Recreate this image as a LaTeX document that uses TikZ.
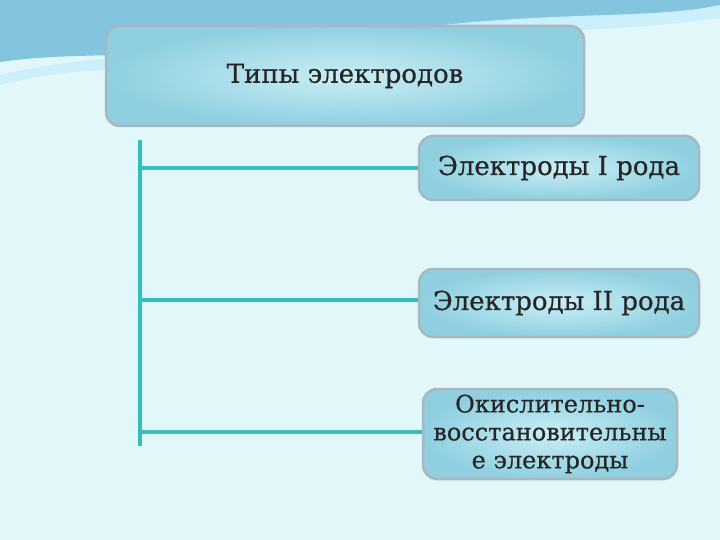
\documentclass[tikz,border=0pt]{standalone}
\usepackage{fontspec}
\setmainfont{DejaVu Serif}[FakeBold=0.6]
\definecolor{bg}{HTML}{E2F7F9}
\definecolor{boxin}{HTML}{C9EEF5}
\definecolor{boxout}{HTML}{8FCFE0}
\definecolor{bord}{HTML}{A8B8C0}
\definecolor{linec}{HTML}{33BFC0}
\begin{document}
\begin{tikzpicture}[x=1pt,y=-1pt,
  box/.style={draw=bord,line width=2.5pt,rounded corners=14pt,inner color=boxin,outer color=boxout,text=black!85,font=\fontsize{26}{28}\selectfont},
  link/.style={draw=linec,line width=4pt}]
\fill[bg] (0,0) rectangle (720,540);
\useasboundingbox (0,0) rectangle (720,540);
\fill[cyan!55!teal!55!white] (0,0) -- (720,0) -- (720,10) .. controls (600,30) and (450,20) .. (300,45) .. controls (200,60) and (80,50) .. (0,62) -- cycle;
\fill[cyan!20!white] (0,75) .. controls (100,50) and (250,55) .. (400,30) .. controls (550,10) and (650,20) .. (720,5) -- (720,18) .. controls (600,35) and (450,30) .. (300,55) .. controls (200,72) and (80,62) .. (0,85) -- cycle;
\node[box,minimum width=478pt,minimum height=100pt] (top) at (345,76) {Типы электродов};
\node[box,minimum width=280pt,minimum height=64pt,inner sep=1pt] (b1) at (559,168) {Электроды I рода};
\node[box,minimum width=280pt,minimum height=68pt,inner sep=1pt] (b2) at (559,303) {Электроды II рода};
\node[box,minimum width=254pt,minimum height=90pt,align=center,inner sep=1pt,font=\fontsize{24}{28}\selectfont] (b3) at (550,434) {Окислительно-\\восстановительны\\е электроды};
\coordinate (v0) at (140,140);
\coordinate (v1) at (140,168);
\coordinate (v2) at (140,300);
\coordinate (v3) at (140,432);
\coordinate (v4) at (140,446);
\draw[link] (v0) -- (v4);
\draw[link] (v1) -- (b1.west |- v1);
\draw[link] (v2) -- (b2.west |- v2);
\draw[link] (v3) -- (b3.west |- v3);
\end{tikzpicture}
\end{document}
